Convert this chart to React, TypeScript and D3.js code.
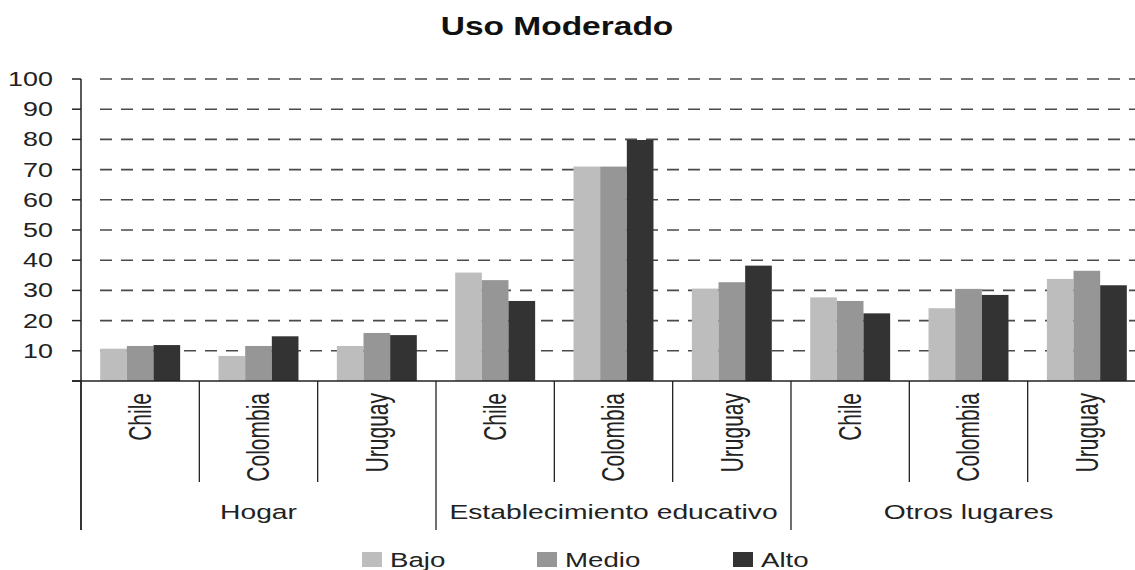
import React from 'react';
import * as d3 from 'd3';

// datos
const groups = ['Hogar', 'Establecimiento educativo', 'Otros lugares'];
const countries = ['Chile', 'Colombia', 'Uruguay'];
const series = ['Bajo', 'Medio', 'Alto'];
const bajo = [10.7, 8.3, 11.6, 35.9, 71.0, 30.6, 27.7, 24.1, 33.8];
const medio = [11.6, 11.6, 15.9, 33.4, 71.0, 32.7, 26.5, 30.5, 36.5];
const alto = [11.9, 14.8, 15.2, 26.5, 79.8, 38.2, 22.4, 28.5, 31.7];
const yTicks = [10, 20, 30, 40, 50, 60, 70, 80, 90, 100];

const colors = ['#bdbdbd', '#969696', '#333333'];
const font = '"Liberation Sans", Arial, sans-serif';

const W = 1135;
const H = 570;
const left = 81;
const right = 1146;
const top = 79;
const base = 381;

const App = () => {
  const values = [bajo, medio, alto];
  const cats = groups.flatMap((g, gi) => countries.map((c, ci) => ({ g, gi, c, i: gi * 3 + ci })));

  const x = d3.scaleBand<number>().domain(cats.map(d => d.i)).range([left, right]).padding(0);
  const xs = d3.scaleBand<string>().domain(series).range([0, x.bandwidth()]).paddingInner(0).paddingOuter(0.72);
  const y = d3.scaleLinear().domain([0, 100]).range([base, top]);

  const step = x.step();
  const bounds = d3.range(cats.length + 1).map(k => left + k * step);

  // texto estirado en horizontal como en la imagen
  const sx = 1.42;

  return (
    <svg width={W} height={H} style={{ position: 'absolute', left: 0, top: 0, background: '#fff' }} fontFamily={font}>
      <text transform={`translate(557,35) scale(1.34,1)`} textAnchor="middle" fontSize={25} fontWeight="bold" fill="#111">
        Uso Moderado
      </text>

      {/* rejilla */}
      {yTicks.map(t => (
        <line key={'g' + t} x1={left + 10} x2={W} y1={y(t)} y2={y(t)} stroke="#4a4a4a" strokeWidth={1.6}
          strokeDasharray="12,9" strokeDashoffset={12} />
      ))}

      {/* barras */}
      {cats.map(d => (
        <g key={'c' + d.i}>
          {series.map((s, si) => (
            <rect key={s} x={(x(d.i) as number) + (xs(s) as number)} y={y(values[si][d.i])}
              width={xs.bandwidth()} height={base - y(values[si][d.i])} fill={colors[si]} />
          ))}
        </g>
      ))}

      {/* eje y */}
      <line x1={left} x2={left} y1={top} y2={530} stroke="#222" strokeWidth={1.5} />
      {[0, ...yTicks].map(t => (
        <line key={'t' + t} x1={72} x2={left} y1={y(t)} y2={y(t)} stroke="#222" strokeWidth={1.5} />
      ))}
      {yTicks.map(t => (
        <text key={'l' + t} transform={`translate(53,${y(t)}) scale(1.38,1)`} textAnchor="end" dy="0.36em"
          fontSize={19.5} fill="#222">
          {t}
        </text>
      ))}

      {/* eje x */}
      <line x1={72} x2={W} y1={base} y2={base} stroke="#222" strokeWidth={1.5} />
      {bounds.map((b, k) => (
        <line key={'b' + k} x1={b} x2={b} y1={base} y2={k % 3 === 0 ? 530 : 482} stroke="#222" strokeWidth={1.3} />
      ))}
      {cats.map(d => (
        <text key={'n' + d.i}
          transform={`translate(${(x(d.i) as number) + x.bandwidth() / 2},393) scale(1.45,1) rotate(-90)`}
          textAnchor="end" dy="0.36em" fontSize={21} fill="#222">
          {d.c}
        </text>
      ))}
      {groups.map((g, gi) => (
        <text key={g} transform={`translate(${(bounds[gi * 3] + bounds[gi * 3 + 3]) / 2},519) scale(1.45,1)`}
          textAnchor="middle" fontSize={19.5} fill="#222">
          {g}
        </text>
      ))}

      {/* leyenda */}
      {series.map((s, si) => {
        const lx = [362, 537, 733][si];
        return (
          <g key={'lg' + s}>
            <rect x={lx} y={552} width={20} height={15} fill={colors[si]} />
            <text transform={`translate(${lx + 28},567) scale(${sx},1)`} fontSize={19.5} fill="#222">{s}</text>
          </g>
        );
      })}
    </svg>
  );
};

export default App;
